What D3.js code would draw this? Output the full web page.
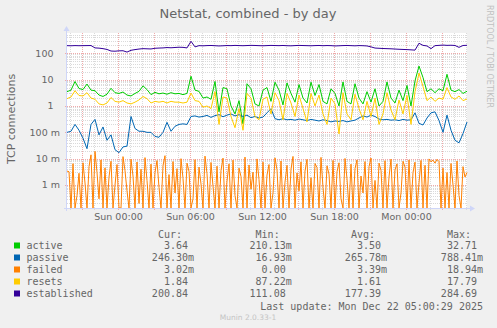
<!DOCTYPE html>
<html>
<head>
<meta charset="utf-8">
<script src="https://cdn.jsdelivr.net/npm/d3@7"></script>
<style>
  html, body { margin: 0; padding: 0; background: #f0f0f0; }
  svg { display: block; }
  text { white-space: pre; }
</style>
</head>
<body>
<svg id="chart" width="497" height="328"></svg>
<script>
// ---- data -------------------------------------------------------------
const seriesNames  = ["active", "passive", "failed", "resets", "established"];
const seriesColors = ["#00cc00", "#0066b3", "#ff8000", "#ffcc00", "#330099"];

// 5-minute RRD, sampled every 20 minutes (failed: every 10 minutes)
const startTime = Date.UTC(2025, 11, 20, 19, 45);   // Sat 19:45
const endTime   = Date.UTC(2025, 11, 22, 5, 5);     // Mon 05:05
const stepMinutes = 20;
const failedStepMinutes = 10;

const activeValues = [
  3.5, 4.0, 8.5, 4.6, 4.2, 6.8, 4.0, 3.8, 2.6, 2.3,
  2.8, 4.7, 3.2, 3.0, 3.4, 2.6, 2.4, 3.0, 3.6, 5.8,
  4.2, 2.7, 3.3, 2.9, 3.1, 2.8, 3.2, 2.9, 3.0, 2.7,
  3.0, 13.5, 4.0, 3.6, 2.0, 2.2, 1.8, 8.5, 0.6, 5.0,
  4.5, 1.0, 0.5, 1.6, 0.21013, 7.0, 4.5, 1.2, 1.0, 4.0,
  5.0, 1.5, 8.0, 4.0, 1.1, 7.5, 3.0, 1.4, 6.5, 2.0,
  1.3, 8.0, 2.5, 6.5, 1.5, 1.2, 4.5, 3.0, 1.0, 8.2,
  1.5, 1.2, 7.0, 2.0, 1.2, 3.5, 1.4, 4.5, 1.0, 1.5,
  8.2, 2.0, 1.3, 4.0, 1.6, 6.0, 1.0, 9.0, 32.71, 12.0,
  3.5, 4.5, 3.2, 4.5, 3.8, 16.0, 4.0, 3.5, 4.2, 3.0,
  3.64
];

const passiveValues = [
  0.10, 0.11, 0.20, 0.12, 0.06, 0.024, 0.20, 0.31, 0.08, 0.16,
  0.05, 0.08, 0.022, 0.01693, 0.028, 0.030, 0.40, 0.14, 0.11, 0.11,
  0.10, 0.10, 0.07, 0.065, 0.10, 0.24, 0.11, 0.17, 0.20, 0.21,
  0.20, 0.40, 0.42, 0.38, 0.40, 0.44, 0.37, 0.43, 0.47, 0.39,
  0.45, 0.50, 0.42, 0.47, 0.40, 0.45, 0.36, 0.40, 0.35, 0.38,
  0.55, 0.78841, 0.33, 0.30, 0.33, 0.30, 0.31, 0.29, 0.32, 0.30,
  0.28, 0.31, 0.29, 0.27, 0.30, 0.28, 0.25, 0.27, 0.26, 0.28,
  0.25, 0.27, 0.29, 0.35, 0.42, 0.38, 0.45, 0.40, 0.32, 0.30,
  0.31, 0.29, 0.30, 0.28, 0.31, 0.29, 0.30, 0.55, 0.22, 0.19,
  0.35, 0.55, 0.60, 0.28, 0.10, 0.45, 0.12, 0.05, 0.04, 0.09,
  0.2463
];

// failed connections, in milli-connections per second
const failedMilliValues = [
  3.4, 3.2, 0, 6.5, 0, 0.4, 2.8, 0, 7.0, 1.2,
  0, 5.0, 14, 0, 18.94, 3.0, 0.3, 9.0, 0, 4.5,
  0, 2.0, 8.0, 0, 1.0, 6.0, 0, 0, 12, 3.5,
  0.6, 0, 9.5, 2.2, 0, 7.5, 0.2, 4.0, 0, 11,
  1.5, 0, 6.2, 0, 3.0, 8.5, 0.8, 0, 5.5, 13,
  0, 2.5, 0, 7.8, 0.5, 4.2, 0, 10, 1.8, 0,
  6.8, 3.3, 0, 0.3, 9.2, 0, 4.8, 1.1, 0, 12.5,
  2.7, 0, 7.2, 0.9, 0, 5.2, 0, 3.6, 10.5, 0,
  1.4, 6.4, 0, 8.8, 0.4, 0, 4.4, 2.1, 0, 11.5,
  0, 5.8, 0.7, 3.1, 0, 9.8, 1.6, 0, 7.4, 0,
  2.4, 6.0, 0, 0.5, 10.8, 3.8, 0, 8.2, 0, 1.3,
  5.6, 0, 4.0, 12.2, 0, 2.9, 0.6, 7.6, 0, 3.4,
  9.4, 0, 1.9, 0, 6.6, 4.6, 0, 11.2, 0.8, 0,
  5.4, 2.6, 0, 8.6, 0, 3.2, 7.0, 0.3, 0, 10.2,
  1.7, 0, 6.2, 0, 4.2, 9.0, 0, 2.2, 0.5, 7.8,
  0, 5.0, 10.6, 0, 1.5, 0, 6.8, 3.6, 0, 8.4,
  0, 2.0, 9.6, 0, 3.8, 6.4, 0, 0.5, 8.0, 4.8,
  0, 9.0, 0, 3.0, 7.4, 0, 1.2, 8.6, 0, 5.6,
  0, 9.8, 7.6, 8.8, 6.8, 9.4, 7.8, 0, 4.4, 0,
  3.0, 0, 6.6, 1.0, 0, 8.2, 0.4, 0, 5.0, 2.0,
  3.02
];
const failedValues = failedMilliValues.map(v => v / 1000);

const resetsValues = [
  1.9, 2.2, 3.8, 2.5, 2.4, 3.2, 2.0, 1.8, 1.2, 1.1,
  1.3, 2.1, 1.5, 1.4, 1.6, 1.3, 1.2, 1.4, 1.7, 2.3,
  1.9, 1.3, 1.5, 1.4, 1.5, 1.3, 1.5, 1.4, 1.4, 1.3,
  1.4, 3.1, 1.6, 1.5, 0.9, 1.0, 0.8, 3.5, 0.2, 2.2,
  2.0, 0.4, 0.15, 0.8, 0.12, 3.0, 2.0, 0.4, 0.3, 1.8,
  2.2, 0.5, 3.2, 1.6, 0.3, 3.0, 1.3, 0.4, 2.6, 0.8,
  0.25, 3.0, 1.0, 2.6, 0.5, 0.2, 2.0, 1.2, 0.08722, 3.2,
  0.5, 0.3, 2.8, 0.8, 0.3, 1.5, 0.4, 2.0, 0.2, 0.5,
  3.2, 0.7, 0.3, 1.7, 0.5, 2.5, 0.2, 3.5, 17.79, 5.5,
  1.6, 2.2, 1.5, 2.0, 1.8, 5.0, 2.2, 1.8, 2.4, 1.6,
  1.84
];

const establishedValues = [
  195, 193, 196, 194, 195, 196, 197, 160, 157, 150,
  140, 122, 120, 124, 125, 111.08, 130, 138, 145, 150,
  148, 146, 155, 158, 160, 165, 162, 166, 170, 168,
  160, 284.69, 175, 195, 192, 196, 198, 194, 190, 193,
  197, 195, 199, 196, 194, 197, 200, 198, 195, 193,
  196, 199, 197, 195, 198, 194, 192, 196, 199, 197,
  195, 193, 196, 198, 194, 197, 195, 190, 193, 196,
  198, 195, 192, 196, 194, 190, 175, 158, 155, 152,
  150, 148, 145, 142, 140, 138, 135, 132, 240, 200,
  190, 150, 195, 200, 205, 200, 202, 198, 168, 198,
  200.84
];

// legend statistics: Cur / Min / Avg / Max
const curValues = [3.64, 0.2463, 0.00302, 1.84, 200.84];
const minValues = [0.21013, 0.01693, 0, 0.08722, 111.08];
const avgValues = [3.50, 0.26578, 0.00339, 1.61, 177.39];
const maxValues = [32.71, 0.78841, 0.01894, 17.79, 284.69];

const yTickValues = [1e-3, 1e-2, 1e-1, 1, 10, 100];
const yTickLabels = ["1 m", "10 m", "100 m", "1", "10", "100"];

const titleText = "Netstat, combined - by day";
const yAxisTitle = "TCP connections";
const lastUpdateText = "Last update: Mon Dec 22 05:00:29 2025";
const sideText = "RRDTOOL / TOBI OETIKER";
const footerText = "Munin 2.0.33-1";

// ---- layout -----------------------------------------------------------
const plot = { left: 67, top: 33, width: 400, height: 175 };
plot.right = plot.left + plot.width;
plot.bottom = plot.top + plot.height;

const yMin = 1.346e-4, yMax = 589;
const x = d3.scaleUtc().domain([startTime, endTime]).range([plot.left, plot.right]);
const y = d3.scaleLog().domain([yMin, yMax]).range([plot.bottom, plot.top]);

const fontColor = "#666666";
const axisColor = "#cfd6f8";
const gridColor = "#dadada";
const mgridColor = "#f0aaaa";

const svg = d3.select("#chart");
svg.append("rect").attr("width", 497).attr("height", 328).attr("fill", "#f0f0f0");
svg.append("rect")
  .attr("x", plot.left).attr("y", plot.top)
  .attr("width", plot.width).attr("height", plot.height)
  .attr("fill", "#ffffff");

const px = v => Math.round(v) + 0.5;

// ---- grid -------------------------------------------------------------
const grid = svg.append("g").attr("shape-rendering", "crispEdges");

// horizontal minor lines (2..9 per decade)
const minorY = [];
for (let e = -4; e <= 2; e++) {
  for (let k = 2; k <= 9; k++) {
    const v = k * Math.pow(10, e);
    if (v > yMin && v < yMax) minorY.push(v);
  }
}
grid.selectAll("line.ymin").data(minorY).join("line")
  .attr("x1", plot.left).attr("x2", plot.right)
  .attr("y1", d => px(y(d))).attr("y2", d => px(y(d)))
  .attr("stroke", gridColor).attr("stroke-dasharray", "1,1");

// vertical minor lines every hour
const hourTicks = d3.utcHour.every(1).range(new Date(startTime), new Date(endTime));
const majorTicks = hourTicks.filter(d => d.getUTCHours() % 3 === 0);
const minorTicks = hourTicks.filter(d => d.getUTCHours() % 3 !== 0);

grid.selectAll("line.xmin").data(minorTicks).join("line")
  .attr("x1", d => px(x(d))).attr("x2", d => px(x(d)))
  .attr("y1", plot.top).attr("y2", plot.bottom + 2)
  .attr("stroke", gridColor).attr("stroke-dasharray", "1,1");

// major lines
grid.selectAll("line.ymaj").data(yTickValues).join("line")
  .attr("x1", plot.left - 2).attr("x2", plot.right)
  .attr("y1", d => px(y(d))).attr("y2", d => px(y(d)))
  .attr("stroke", mgridColor).attr("stroke-dasharray", "1,1");

grid.selectAll("line.xmaj").data(majorTicks).join("line")
  .attr("x1", d => px(x(d))).attr("x2", d => px(x(d)))
  .attr("y1", plot.top).attr("y2", plot.bottom + 3)
  .attr("stroke", mgridColor).attr("stroke-dasharray", "1,1");

// ---- series -----------------------------------------------------------
svg.append("clipPath").attr("id", "plotClip")
  .append("rect")
  .attr("x", plot.left).attr("y", plot.top - 1)
  .attr("width", plot.width + 1).attr("height", plot.height + 1);

const seriesValues = [activeValues, passiveValues, failedValues, resetsValues, establishedValues];
const seriesSteps = [stepMinutes, stepMinutes, failedStepMinutes, stepMinutes, stepMinutes];

const line = d3.line()
  .x(d => x(d.t))
  .y(d => y(Math.max(d.v, yMin)));

const lines = svg.append("g").attr("clip-path", "url(#plotClip)");
seriesValues.forEach((vals, k) => {
  const pts = vals.map((v, i) => ({ t: new Date(startTime + i * seriesSteps[k] * 60000), v }));
  lines.append("path")
    .datum(pts)
    .attr("d", line)
    .attr("fill", "none")
    .attr("stroke", seriesColors[k])
    .attr("stroke-width", 1)
    .attr("stroke-linejoin", "round");
});

// ---- axes -------------------------------------------------------------
const axes = svg.append("g").attr("shape-rendering", "crispEdges");
axes.append("line")
  .attr("x1", plot.left - 3).attr("x2", plot.right + 4)
  .attr("y1", plot.bottom + 0.5).attr("y2", plot.bottom + 0.5)
  .attr("stroke", axisColor);
axes.append("line")
  .attr("x1", plot.left - 0.5).attr("x2", plot.left - 0.5)
  .attr("y1", plot.bottom + 3).attr("y2", plot.top - 3)
  .attr("stroke", axisColor);
svg.append("path")
  .attr("d", `M${plot.right + 3},${plot.bottom - 2.5} L${plot.right + 8},${plot.bottom + 0.5} L${plot.right + 3},${plot.bottom + 3.5} Z`)
  .attr("fill", axisColor);
svg.append("path")
  .attr("d", `M${plot.left - 3.5},${plot.top - 2} L${plot.left - 0.5},${plot.top - 7} L${plot.left + 2.5},${plot.top - 2} Z`)
  .attr("fill", axisColor);

// y tick labels
svg.append("g").selectAll("text").data(yTickValues).join("text")
  .attr("x", (d, i) => yTickLabels[i].endsWith("m") ? 60 : 53.5)
  .attr("y", d => y(d) + 3.4)
  .attr("text-anchor", "end")
  .attr("font-family", "DejaVu Sans")
  .attr("font-size", "9.5px")
  .attr("fill", fontColor)
  .text((d, i) => yTickLabels[i]);

// x tick labels every 6 hours
const labelTicks = d3.utcHour.every(6).range(new Date(startTime), new Date(endTime));
const fmt = d3.utcFormat("%a %H:%M");
svg.append("g").selectAll("text").data(labelTicks).join("text")
  .attr("x", d => x(d) + 0.5)
  .attr("y", 220)
  .attr("text-anchor", "middle")
  .attr("font-family", "DejaVu Sans")
  .attr("font-size", "9.5px")
  .attr("fill", fontColor)
  .text(d => fmt(d));

// ---- titles -----------------------------------------------------------
svg.append("text")
  .attr("x", 248).attr("y", 18)
  .attr("text-anchor", "middle")
  .attr("font-family", "DejaVu Sans").attr("font-size", "13px")
  .attr("fill", fontColor)
  .text(titleText);

svg.append("text")
  .attr("transform", "translate(15,119) rotate(-90)")
  .attr("text-anchor", "middle")
  .attr("font-family", "DejaVu Sans").attr("font-size", "11px")
  .attr("fill", fontColor)
  .text(yAxisTitle);

svg.append("text")
  .attr("transform", "translate(486.5,5) rotate(90)")
  .attr("text-anchor", "start")
  .attr("font-family", "DejaVu Sans").attr("font-size", "8px")
  .attr("fill", "#c0c0c0")
  .text(sideText);

svg.append("text")
  .attr("x", 248).attr("y", 320)
  .attr("text-anchor", "middle")
  .attr("font-family", "DejaVu Sans").attr("font-size", "7.5px")
  .attr("fill", "#c4c4c4")
  .text(footerText);

// ---- legend -----------------------------------------------------------
const mono = "DejaVu Sans Mono";
const charW = 6.02;
const colRight = [194, 291.7, 387, 483];
const colHeads = ["Cur:", "Min:", "Avg:", "Max:"];
const stats = [curValues, minValues, avgValues, maxValues];

function fmtValue(v) {
  if (v === 0) return "0.00".padStart(6) + " ";
  if (Math.abs(v) < 1) return (v * 1000).toFixed(2).padStart(6) + "m";
  return v.toFixed(2).padStart(6) + " ";
}

const legend = svg.append("g")
  .attr("font-family", mono).attr("font-size", "10px").attr("fill", fontColor);

colHeads.forEach((h, c) => {
  legend.append("text")
    .attr("x", colRight[c] - 6 * charW).attr("y", 237.5)
    .text(h);
});

seriesNames.forEach((name, r) => {
  const cy = 245.5 + r * 12;
  legend.append("rect")
    .attr("x", 14).attr("y", cy - 3)
    .attr("width", 6).attr("height", 6)
    .attr("fill", seriesColors[r]);
  legend.append("text")
    .attr("x", 26.5).attr("y", cy + 3.5)
    .text(name);
  stats.forEach((col, c) => {
    legend.append("text")
      .attr("x", colRight[c] - 7 * charW).attr("y", cy + 3.5)
      .text(fmtValue(col[r]));
  });
});

legend.append("text")
  .attr("x", colRight[3]).attr("y", 309.5)
  .attr("text-anchor", "end")
  .text(lastUpdateText);
</script>
</body>
</html>
